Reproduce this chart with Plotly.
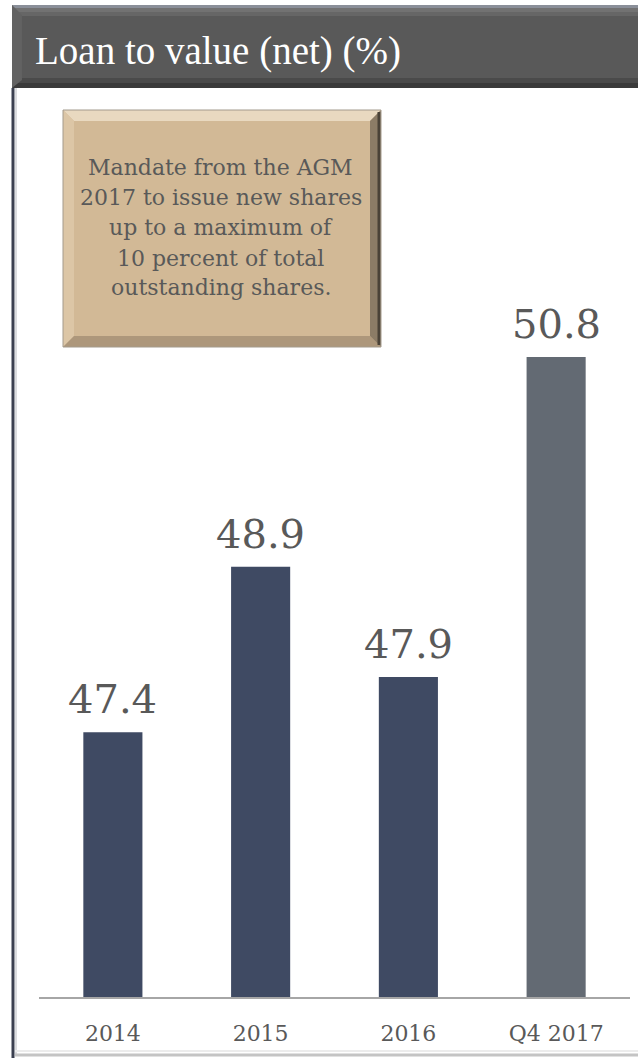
import plotly.graph_objects as go

# ---- data ----
categories = ["2014", "2015", "2016", "Q4 2017"]
ltv_values = [47.4, 48.9, 47.9, 50.8]
bar_colors = ["#3f4a63", "#3f4a63", "#3f4a63", "#636a73"]
title_text = "Loan to value (net) (%)"
note_lines = [
    "Mandate from the AGM",
    "2017 to issue new shares",
    "up to a maximum of",
    "10 percent of total",
    "outstanding shares.",
]

W, H = 638, 1060
SERIF = "Georgia, 'DejaVu Serif', serif"
TEXT_GREY = "#595959"


def px(x):
    return x / W


def py(y):
    return 1 - y / H


def rect(x0, y0, x1, y1, fill, line=None):
    return dict(type="rect", xref="paper", yref="paper",
                x0=px(x0), x1=px(x1), y0=py(y1), y1=py(y0),
                fillcolor=fill, line=dict(width=0) if line is None else line,
                layer="above")


def poly(points, fill):
    d = "M " + " L ".join(f"{px(x):.5f},{py(y):.5f}" for x, y in points) + " Z"
    return dict(type="path", xref="paper", yref="paper", path=d,
                fillcolor=fill, line=dict(width=0), layer="above")


def hline(x0, x1, y, color, width):
    return dict(type="line", xref="paper", yref="paper",
                x0=px(x0), x1=px(x1), y0=py(y), y1=py(y),
                line=dict(color=color, width=width), layer="above")


def vline(x, y0, y1, color, width):
    return dict(type="line", xref="paper", yref="paper",
                x0=px(x), x1=px(x), y0=py(y0), y1=py(y1),
                line=dict(color=color, width=width), layer="above")


fig = go.Figure()
fig.add_trace(go.Bar(
    x=categories,
    y=ltv_values,
    width=0.4,
    marker=dict(color=bar_colors, line=dict(width=0)),
    cliponaxis=False,
    hoverinfo="skip",
))

shapes = []
# header bar with a soft bevel
shapes.append(rect(12, 5, 640, 88, "#595959"))
shapes.append(rect(12, 5, 640, 8, "#8a8f99"))
shapes.append(rect(12, 8, 640, 12, "#727272"))
shapes.append(rect(12, 12, 640, 16, "#666666"))
shapes.append(rect(12, 78, 640, 83, "#4a4a4a"))
shapes.append(rect(12, 83, 640, 88, "#3a3a3a"))
shapes.append(poly([(12, 5), (22, 15), (22, 80), (12, 88)], "#626262"))

# panel frame: left edge and bottom edge
shapes.append(vline(13, 88, 1058, "#3b4050", 3))
shapes.append(vline(16, 88, 1054, "#dcdde0", 2))
shapes.append(hline(15, 640, 1051, "#ececec", 2))
shapes.append(hline(15, 640, 1055, "#c4c4c4", 3))

# tan note box with bevelled edges
bx0, by0, bx1, by1, b = 63, 110, 381, 347, 11
shapes.append(rect(bx0, by0, bx1, by1, "#d2b996"))
shapes.append(poly([(bx0, by0), (bx1, by0), (bx1 - b, by0 + b), (bx0 + b, by0 + b)], "#e9d9c0"))
shapes.append(poly([(bx0, by0), (bx0 + b, by0 + b), (bx0 + b, by1 - b), (bx0, by1)], "#dcc6a6"))
shapes.append(poly([(bx0, by1), (bx0 + b, by1 - b), (bx1 - b, by1 - b), (bx1, by1)], "#ad977b"))
shapes.append(poly([(bx1, by0), (bx1, by1), (bx1 - b, by1 - b), (bx1 - b, by0 + b)], "#8c7c66"))
shapes.append(vline(bx1 - 2, by0 + 2, by1 - 2, "#4a4237", 3))
shapes.append(dict(type="rect", xref="paper", yref="paper",
                   x0=px(bx0), x1=px(bx1), y0=py(by1), y1=py(by0),
                   fillcolor="rgba(0,0,0,0)", line=dict(color="#a39a8c", width=1),
                   layer="above"))

annotations = [
    dict(text=title_text, xref="paper", yref="paper", x=px(33), y=py(51),
         xanchor="left", yanchor="middle", showarrow=False,
         font=dict(family="'Liberation Serif', 'Times New Roman', serif",
                   size=39, color="#ffffff")),
]

# note text, one line per annotation for an even 30px line pitch
for i, line in enumerate(note_lines):
    annotations.append(dict(
        text=line, xref="paper", yref="paper",
        x=px((bx0 + bx1) / 2 - 1), y=py(168 + 30 * i),
        xanchor="center", yanchor="middle", showarrow=False,
        font=dict(family=SERIF, size=22, color=TEXT_GREY)))

# value labels sitting above each bar (category axis -> position by index)
for idx, val in enumerate(ltv_values):
    annotations.append(dict(
        text=f"{val:.1f}", x=idx, y=val, xref="x", yref="y",
        xanchor="center", yanchor="bottom", yshift=8, showarrow=False,
        font=dict(family=SERIF, size=40, color=TEXT_GREY)))

fig.update_layout(
    width=W,
    height=H,
    autosize=False,
    margin=dict(l=0, r=0, t=0, b=0),
    paper_bgcolor="#ffffff",
    plot_bgcolor="#ffffff",
    showlegend=False,
    bargap=0.6,
    shapes=shapes,
    annotations=annotations,
    xaxis=dict(
        type="category",
        domain=[px(39), px(630)],
        range=[-0.5, 3.5],
        showline=True,
        linecolor="#a6a6a6",
        linewidth=2,
        showgrid=False,
        zeroline=False,
        ticks="",
        ticklabelstandoff=16,
        tickfont=dict(family=SERIF, size=22, color=TEXT_GREY),
        fixedrange=True,
    ),
    yaxis=dict(
        domain=[py(997), py(110)],
        range=[45, 53.04],
        visible=False,
        showgrid=False,
        zeroline=False,
        fixedrange=True,
    ),
)

fig.write_html("out.html", config={"displayModeBar": False})
